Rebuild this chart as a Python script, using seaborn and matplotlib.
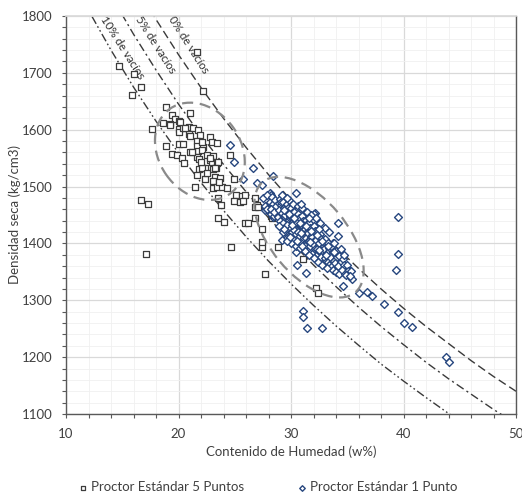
import matplotlib
matplotlib.use("Agg")
import matplotlib.pyplot as plt
import seaborn as sns
import pandas as pd
from matplotlib.patches import Ellipse
from matplotlib.transforms import Affine2D, ScaledTranslation
from matplotlib.ticker import MultipleLocator

# ---------------- data ----------------
# Proctor Estándar 5 Puntos (w %, densidad seca)
w_5p = [21.6, 14.7, 16.0, 16.7, 15.9, 22.2, 18.9, 19.4, 21.0, 19.7, 20.0, 18.6, 19.2, 17.6, 20.0,
        20.0, 20.4, 20.9, 21.3, 21.7, 20.9, 21.9, 21.6, 22.8, 23.0, 23.4, 18.9, 20.0, 20.4, 21.6,
        22.2, 21.0, 21.7, 22.1, 19.4, 19.9, 20.3, 21.6, 22.5, 23.1, 20.5, 22.8, 23.0, 21.8, 23.4,
        21.8, 22.4, 22.1, 23.1, 23.3, 21.6, 22.4, 23.2, 23.7, 23.1, 24.9, 21.5, 23.1, 23.4, 23.9,
        24.3, 25.1, 25.6, 25.9, 23.5, 23.8, 24.9, 25.5, 25.7, 16.7, 17.3, 26.8, 27.0, 24.6, 23.5,
        24.0, 25.9, 26.2, 26.8, 27.4, 24.7, 27.4, 27.4, 28.8, 17.1, 27.7, 26.8, 28.2, 28.3, 32.2,
        32.4, 31.1, 27.1, 20.1, 20.6, 21.0, 22.1, 22.8, 21.2, 22.0, 23.5, 23.2, 22.5, 23.6, 19.2]
d_5p = [1737, 1712, 1698, 1675, 1661, 1668, 1640, 1626, 1629, 1619, 1615, 1612, 1610, 1601, 1601,
        1596, 1603, 1605, 1603, 1599, 1592, 1591, 1580, 1587, 1578, 1577, 1571, 1575, 1575, 1571,
        1570, 1561, 1563, 1564, 1557, 1555, 1550, 1552, 1555, 1554, 1541, 1547, 1543, 1548, 1541,
        1531, 1533, 1533, 1531, 1533, 1520, 1513, 1517, 1515, 1510, 1513, 1499, 1497, 1499, 1499,
        1497, 1485, 1483, 1485, 1480, 1468, 1475, 1473, 1475, 1476, 1469, 1480, 1468, 1555, 1445,
        1438, 1436, 1436, 1445, 1425, 1394, 1394, 1402, 1394, 1381, 1346, 1464, 1448, 1445, 1322,
        1313, 1373, 1464, 1614, 1603, 1589, 1578, 1550, 1561, 1543, 1543, 1533, 1524, 1508, 1608]

# Proctor Estándar 1 Punto
w_1p = [26.6, 28.4, 27.0, 27.7, 28.1, 30.4, 32.1, 34.2, 34.2, 33.7, 35.0, 34.6, 35.4, 36.0, 36.8,
        37.2, 38.3, 39.5, 40.0, 40.8, 39.5, 39.5, 39.3, 31.1, 31.1, 31.4, 32.8, 43.8, 44.0, 24.6,
        24.9, 25.7, 27.4, 28.2, 27.8, 28.4, 29.5, 29.6, 29.2, 30.4, 30.5, 31.3, 32.0, 29.3,
        27.5, 27.7, 27.9, 28.1, 27.9, 28.2, 28.3, 28.4, 28.2, 28.5, 28.6, 28.7, 28.5, 28.8, 28.9,
        29.0, 29.1, 28.9, 29.2, 29.0, 29.1, 29.3, 29.4, 29.2, 29.5, 29.3, 29.6, 29.7, 29.5, 29.8,
        29.6, 29.7, 30.0, 30.1, 29.9, 30.2, 30.0, 30.1, 29.9, 30.3, 30.4, 30.2, 30.5, 30.3, 30.4,
        30.2, 30.6, 30.7, 30.5, 30.8, 30.6, 30.7, 30.9, 31.0, 31.1, 30.9, 31.2, 31.0, 31.1, 30.9,
        31.2, 31.3, 31.4, 31.2, 31.5, 31.3, 31.4, 31.2, 31.5, 31.6, 31.7, 31.5, 31.8, 31.6, 31.7,
        31.9, 32.0, 32.1, 31.9, 32.2, 32.0, 32.1, 31.9, 32.2, 32.3, 32.4, 32.2, 32.5, 32.3, 32.4,
        32.6, 32.6, 32.7, 32.5, 32.8, 32.6, 32.7, 32.9, 33.0, 33.1, 32.9, 33.2, 33.0, 33.1, 33.3,
        33.4, 33.2, 33.5, 33.3, 33.4, 33.6, 33.7, 33.5, 33.8, 33.6, 33.7, 34.0, 34.1, 33.9, 34.2,
        34.0, 34.3, 34.4, 34.2, 34.5, 34.3, 34.6, 34.7, 34.5, 34.8, 35.0, 35.1, 34.9, 35.3, 35.2,
        29.8, 30.2, 30.6, 31.0, 31.4, 31.8, 32.2, 32.6, 33.0, 33.4, 30.0, 30.4, 30.8, 31.2, 31.6,
        32.0, 32.4, 32.8, 33.2, 29.6, 29.9, 30.5, 31.0, 29.4, 28.9, 29.2, 29.6, 30.9, 31.6, 32.5,
        33.8, 34.4, 34.7, 29.8, 30.3, 30.8, 31.3, 31.8, 32.3, 32.8, 33.3, 33.8, 29.4, 30.1, 30.9,
        31.7, 32.5, 33.1]
d_1p = [1533, 1519, 1506, 1459, 1489, 1489, 1453, 1436, 1413, 1401, 1357, 1325, 1337, 1313, 1315,
        1307, 1293, 1279, 1260, 1253, 1446, 1381, 1353, 1281, 1271, 1251, 1251, 1200, 1191, 1573,
        1543, 1513, 1503, 1485, 1462, 1446, 1420, 1410, 1406, 1385, 1362, 1348, 1452, 1420,
        1480, 1466, 1486, 1473, 1461, 1452, 1481, 1469, 1460, 1449, 1477, 1465, 1456, 1446, 1471,
        1479, 1467, 1459, 1451, 1440, 1473, 1472, 1462, 1453, 1446, 1436, 1469, 1457, 1450, 1441,
        1432, 1462, 1462, 1453, 1445, 1436, 1428, 1420, 1448, 1456, 1447, 1440, 1432, 1424, 1416,
        1438, 1452, 1444, 1436, 1427, 1420, 1412, 1431, 1448, 1440, 1432, 1424, 1416, 1408, 1400,
        1428, 1442, 1434, 1426, 1418, 1410, 1402, 1395, 1421, 1436, 1428, 1419, 1412, 1404, 1396,
        1415, 1430, 1421, 1412, 1405, 1398, 1390, 1382, 1408, 1422, 1414, 1406, 1398, 1390, 1382,
        1401, 1416, 1408, 1400, 1392, 1385, 1376, 1395, 1408, 1398, 1390, 1382, 1375, 1368, 1400,
        1392, 1384, 1376, 1368, 1362, 1394, 1385, 1377, 1369, 1360, 1354, 1386, 1376, 1366, 1358,
        1350, 1378, 1368, 1360, 1352, 1346, 1372, 1362, 1354, 1347, 1362, 1352, 1345, 1352, 1342,
        1476, 1470, 1466, 1462, 1456, 1450, 1444, 1436, 1428, 1420, 1400, 1396, 1392, 1386, 1380,
        1374, 1368, 1362, 1356, 1405, 1412, 1405, 1395, 1425, 1430, 1486, 1480, 1470, 1445, 1425,
        1400, 1390, 1380, 1452, 1445, 1436, 1430, 1422, 1415, 1405, 1395, 1385, 1458, 1433, 1418,
        1402, 1388, 1380]

# Curvas de vacíos
w_curve = [10, 12, 14, 16, 18, 20, 22, 24, 26, 28, 30, 32, 34, 36, 38, 40, 42, 44, 46, 48, 50]
d_0 = [2095, 2011, 1933, 1861, 1794, 1732, 1674, 1620, 1569, 1521, 1476, 1434, 1394, 1356,
       1320, 1286, 1254, 1224, 1194, 1166, 1140]
d_5 = [1990, 1910, 1836, 1768, 1705, 1645, 1590, 1539, 1491, 1445, 1403, 1362, 1324, 1288,
       1254, 1222, 1191, 1162, 1135, 1108, 1083]
d_10 = [1885, 1810, 1740, 1675, 1615, 1559, 1507, 1458, 1412, 1369, 1329, 1291, 1255, 1221,
        1188, 1158, 1129, 1101, 1075, 1050, 1026]

curve_labels = ["10% de vacíos", "5% de vacíos", "0% de vacíos"]
series_labels = ["Proctor Estándar 5 Puntos", "Proctor Estándar 1 Punto"]

# ---------------- style ----------------
sns.set_theme(style="white")
plt.rcParams["font.family"] = ["Lato", "DejaVu Sans"]
TXT = "#404040"

fig = plt.figure(figsize=(5.22, 4.97), dpi=100)
ax = fig.add_axes([66 / 522, 1 - 414 / 497, 450 / 522, 398 / 497])

ax.set_xlim(10, 50)
ax.set_ylim(1100, 1800)
ax.xaxis.set_major_locator(MultipleLocator(10))
ax.xaxis.set_minor_locator(MultipleLocator(2))
ax.yaxis.set_major_locator(MultipleLocator(100))
ax.yaxis.set_minor_locator(MultipleLocator(20))
ax.set_axisbelow(True)
ax.grid(which="major", color="#d9d9d9", lw=0.9)
ax.grid(which="minor", color="#f0f0f0", lw=0.6)

# void curves
ax.plot(w_curve, d_0, color="#3a3a3a", lw=1.0, dashes=(6, 3), zorder=2)
ax.plot(w_curve, d_5, color="#3a3a3a", lw=1.0, dashes=(6, 2.5, 1.5, 2.5), zorder=2)
ax.plot(w_curve, d_10, color="#3a3a3a", lw=1.0, dashes=(6, 2, 1.2, 2, 1.2, 2), zorder=2)

# curve labels
lab_pos = [(15.0, 1745), (18.0, 1750), (20.9, 1750)]
for (lx, ly), t in zip(lab_pos, curve_labels):
    ax.text(lx, ly, t, rotation=-57.5, ha="center", va="center", fontsize=8.3,
            color="#303030", zorder=3)

# scatter
df5 = pd.DataFrame({"w": w_5p, "d": d_5p})
df1 = pd.DataFrame({"w": w_1p, "d": d_1p})
sns.scatterplot(data=df5, x="w", y="d", marker="s", s=20, color="#3c3c3c",
                facecolor="white", edgecolor="#3c3c3c", linewidth=0.9,
                label=series_labels[0], ax=ax, zorder=4)
sns.scatterplot(data=df1, x="w", y="d", marker="D", s=16, color="#27477f",
                facecolor="white", edgecolor="#27477f", linewidth=1.0,
                label=series_labels[1], ax=ax, zorder=5)

# ellipses (centre in data units, semi-axes in pixels)
ellipses = [((21.9, 1562), 52, 41, -55), ((31.6, 1411), 72, 38, -50)]
for (cx, cy), a, b, ang in ellipses:
    tr = Affine2D().scale(fig.dpi / 100) + ScaledTranslation(cx, cy, ax.transData)
    e = Ellipse((0, 0), 2 * a, 2 * b, angle=ang, transform=tr, fill=False,
                edgecolor="#8a8a8a", lw=1.6, linestyle=(0, (5, 3)), zorder=6)
    ax.add_patch(e)

# axes styling
for s in ["left", "bottom", "right"]:
    ax.spines[s].set_color("#595959")
    ax.spines[s].set_linewidth(1.0)
ax.spines["top"].set_color("#d9d9d9")
ax.tick_params(axis="both", which="both", direction="out", length=3, width=0.8,
               color="#595959", labelsize=9.5, labelcolor=TXT, pad=7)
ax.tick_params(axis="y", which="both", left=True)
ax.tick_params(axis="x", which="both", bottom=True)

ax.set_xlabel("Contenido de Humedad (w%)", fontsize=9.5, color=TXT)
ax.set_ylabel("Densidad seca (kg/cm3)", fontsize=9.5, color=TXT)
ax.xaxis.set_label_coords(0.5, -0.08)
ax.yaxis.set_label_coords(-0.1, 0.5)

ax.legend_.remove()
h, l = ax.get_legend_handles_labels()
fig.legend(h, l, loc="center", bbox_to_anchor=(0.513, 1 - 487 / 497), ncol=2,
           frameon=False, fontsize=9.5, columnspacing=4.0, handletextpad=0.3,
           handlelength=0.7, markerscale=0.7, labelcolor=TXT)

fig.savefig("out.png", dpi=100)
